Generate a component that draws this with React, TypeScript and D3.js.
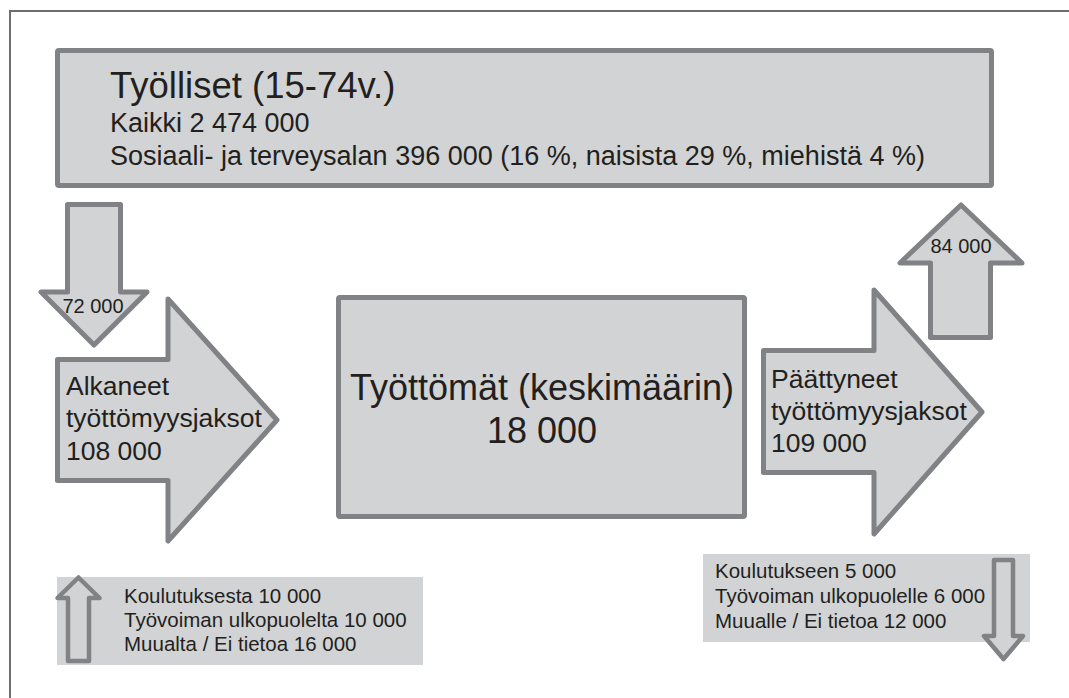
import React, { useEffect } from "react";
import * as d3 from "d3";

// ---- Data ----
const employedTitle = "Työlliset (15-74v.)";
const employedTotal = 2474000;
const socialHealthEmployed = 396000;
const socialHealthShares = [16, 29, 4]; // total %, women %, men %
const inflowFromEmployed = 72000;
const outflowToEmployed = 84000;
const startedSpells = 108000;
const endedSpells = 109000;
const unemployedAverage = 18000;
const inflowLabels = ["Koulutuksesta", "Työvoiman ulkopuolelta", "Muualta / Ei tietoa"];
const inflowValues = [10000, 10000, 16000];
const outflowLabels = ["Koulutukseen", "Työvoiman ulkopuolelle", "Muualle / Ei tietoa"];
const outflowValues = [5000, 6000, 12000];

const fi = d3.formatLocale({ decimal: ",", thousands: "\u00a0", grouping: [3], currency: ["", " €"] });
const fmt = (v: number) => fi.format(",d")(v).replace(/\u00a0/g, " ");

const FILL = "#d1d3d4";
const STROKE = "#808285";
const TEXT = "#231f20";
const FONT = "'Liberation Sans', Arial, Helvetica, sans-serif";

const line = d3.line<[number, number]>().curve(d3.curveLinearClosed);

function rightArrow(x0: number, bt: number, bb: number, neck: number, ht: number, hb: number, tipX: number): string {
  const cy = (ht + hb) / 2;
  return line([
    [x0, bt], [neck, bt], [neck, ht], [tipX, cy], [neck, hb], [neck, bb], [x0, bb],
  ]) as string;
}
function vArrow(x0: number, x1: number, shaftEnd: number, headBase: number, wx0: number, wx1: number, tipY: number): string {
  const cx = (wx0 + wx1) / 2;
  return line([
    [x0, shaftEnd], [x1, shaftEnd], [x1, headBase], [wx1, headBase], [cx, tipY], [wx0, headBase], [x0, headBase],
  ]) as string;
}

export default function App() {
  useEffect(() => {
    document.body.style.margin = "0";
  }, []);

  const ts = { fontFamily: FONT, fill: TEXT } as const;

  return (
    <svg width={1069} height={698} style={{ display: "block", position: "absolute", left: 0, top: 0, background: "#fff" }}>
      {/* outer frame */}
      <rect x={10} y={11} width={1080} height={720} fill="none" stroke="#6d6e71" strokeWidth={2} />

      {/* top box */}
      <rect x={57.5} y={50.5} width={934} height={135} fill={FILL} stroke={STROKE} strokeWidth={5} rx={1.5} />
      <text x={110} y={98} fontSize={36.5} {...ts}>{employedTitle}</text>
      <text x={110} y={132} fontSize={27} {...ts}>{`Kaikki ${fmt(employedTotal)}`}</text>
      <text x={110} y={165} fontSize={27} {...ts}>
        {`Sosiaali- ja terveysalan ${fmt(socialHealthEmployed)} (${socialHealthShares[0]} %, naisista ${socialHealthShares[1]} %, miehistä ${socialHealthShares[2]} %)`}
      </text>

      {/* down arrow left */}
      <path d={vArrow(67.5, 120.5, 204.5, 292, 41, 147, 345)} fill={FILL} stroke={STROKE} strokeWidth={5} strokeLinejoin="round" />
      <text x={93} y={313} fontSize={20} textAnchor="middle" {...ts}>{fmt(inflowFromEmployed)}</text>

      {/* left big arrow */}
      <path d={rightArrow(57.5, 359.5, 480.5, 168, 299, 541, 277)} fill={FILL} stroke={STROKE} strokeWidth={5} strokeLinejoin="round" />
      <text x={66} y={395} fontSize={26.5} {...ts}>Alkaneet</text>
      <text x={66} y={427} fontSize={26.5} {...ts}>työttömyysjaksot</text>
      <text x={66} y={460} fontSize={26.5} {...ts}>{fmt(startedSpells)}</text>

      {/* centre box */}
      <rect x={338.5} y={297.5} width={406} height={219} fill={FILL} stroke={STROKE} strokeWidth={5} rx={1.5} />
      <text x={542} y={400} fontSize={36} textAnchor="middle" {...ts}>Työttömät (keskimäärin)</text>
      <text x={542} y={443} fontSize={36} textAnchor="middle" {...ts}>{fmt(unemployedAverage)}</text>

      {/* right big arrow */}
      <path d={rightArrow(763.5, 350.5, 472.5, 874, 290, 534, 982)} fill={FILL} stroke={STROKE} strokeWidth={5} strokeLinejoin="round" />
      <text x={771} y={388} fontSize={26.5} {...ts}>Päättyneet</text>
      <text x={771} y={420} fontSize={26.5} {...ts}>työttömyysjaksot</text>
      <text x={771} y={452} fontSize={26.5} {...ts}>{fmt(endedSpells)}</text>

      {/* up arrow right */}
      <path d={vArrow(930.5, 990.5, 337.5, 263, 900, 1022, 205)} fill={FILL} stroke={STROKE} strokeWidth={5} strokeLinejoin="round" />
      <text x={961} y={253} fontSize={20} textAnchor="middle" {...ts}>{fmt(outflowToEmployed)}</text>

      {/* bottom-left box */}
      <rect x={57} y={577} width={366} height={88} fill={FILL} />
      <path d={vArrow(68, 89, 661, 598, 57.5, 99.5, 577.5)} fill={FILL} stroke={STROKE} strokeWidth={4.5} strokeLinejoin="round" />
      {inflowLabels.map((l, i) => (
        <text key={l} x={124} y={603 + i * 24} fontSize={20.5} {...ts}>{`${l} ${fmt(inflowValues[i])}`}</text>
      ))}

      {/* bottom-right box */}
      <rect x={703} y={554} width={327} height={88} fill={FILL} />
      {outflowLabels.map((l, i) => (
        <text key={l} x={715} y={578 + i * 25} fontSize={20.5} {...ts}>{`${l} ${fmt(outflowValues[i])}`}</text>
      ))}
      <path d={vArrow(994, 1013, 560, 636, 984, 1023, 659)} fill={FILL} stroke={STROKE} strokeWidth={4.5} strokeLinejoin="round" />
    </svg>
  );
}
